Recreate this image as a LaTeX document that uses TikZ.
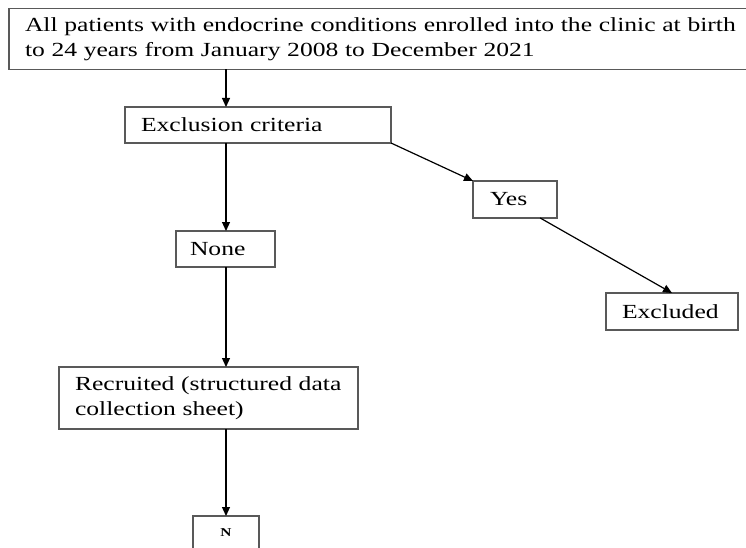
\documentclass[tikz,border=0pt]{standalone}
\usepackage{fontspec}
\setmainfont{Liberation Serif}[FakeStretch=1.28]
\usetikzlibrary{arrows.meta,calc}
\begin{document}
\begin{tikzpicture}[x=1pt,y=-1pt,
  box/.style={draw=black!65, line width=1.3pt, rectangle, anchor=north west,
    align=left, font=\fontsize{20}{25}\selectfont, inner ysep=0pt, outer sep=0pt},
  arr/.style={draw=black, line width=1.2pt, -{Triangle[length=9pt,width=8pt]}}]
\useasboundingbox (0,0) rectangle (746,548);
\fill[white] (0,0) rectangle (746,548);
\begin{scope}
\clip (0,0) rectangle (746,548);
\coordinate (spine) at (226,0);
\node[box, minimum width=770pt, minimum height=61pt, text width=738pt, inner xsep=16pt] (top) at (9,8.5)
  {All patients with endocrine conditions enrolled into the clinic at birth\\to 24 years from January 2008 to December 2021};
\node[box, minimum width=266pt, minimum height=36pt, text width=234pt, inner xsep=16pt] (excl) at (125,107)
  {Exclusion criteria};
\node[box, minimum width=84pt, minimum height=37pt, text width=50pt, inner xsep=17pt] (yes) at (473,181)
  {Yes};
\node[box, minimum width=99pt, minimum height=36pt, text width=71pt, inner xsep=14pt] (none) at (176,231)
  {None};
\node[box, minimum width=132pt, minimum height=37pt, text width=100pt, inner xsep=16pt] (exclu) at (606,293)
  {Excluded};
\node[box, minimum width=299pt, minimum height=62pt, text width=272pt, inner xsep=13.5pt] (recr) at (59,367)
  {\hspace*{2.5pt}Recruited (structured data\\\hspace*{2.5pt}collection sheet)};
\node[box, minimum width=66pt, minimum height=34pt, text width=40pt, inner xsep=13pt, align=center,
  font=\fontsize{12}{14}\selectfont\bfseries] (n) at (193,516) {N};
\draw[arr] (top.south -| spine) -- (excl.north -| spine);
\draw[arr] (excl.south -| spine) -- (none.north -| spine);
\draw[arr] (none.south -| spine) -- (recr.north -| spine);
\draw[arr] (recr.south -| spine) -- (n.north -| spine);
\draw[arr] (excl.south east) -- (yes.north west);
\draw[arr] ($(yes.south west)!0.8!(yes.south east)$) -- (exclu.north);
\end{scope}
\end{tikzpicture}
\end{document}
